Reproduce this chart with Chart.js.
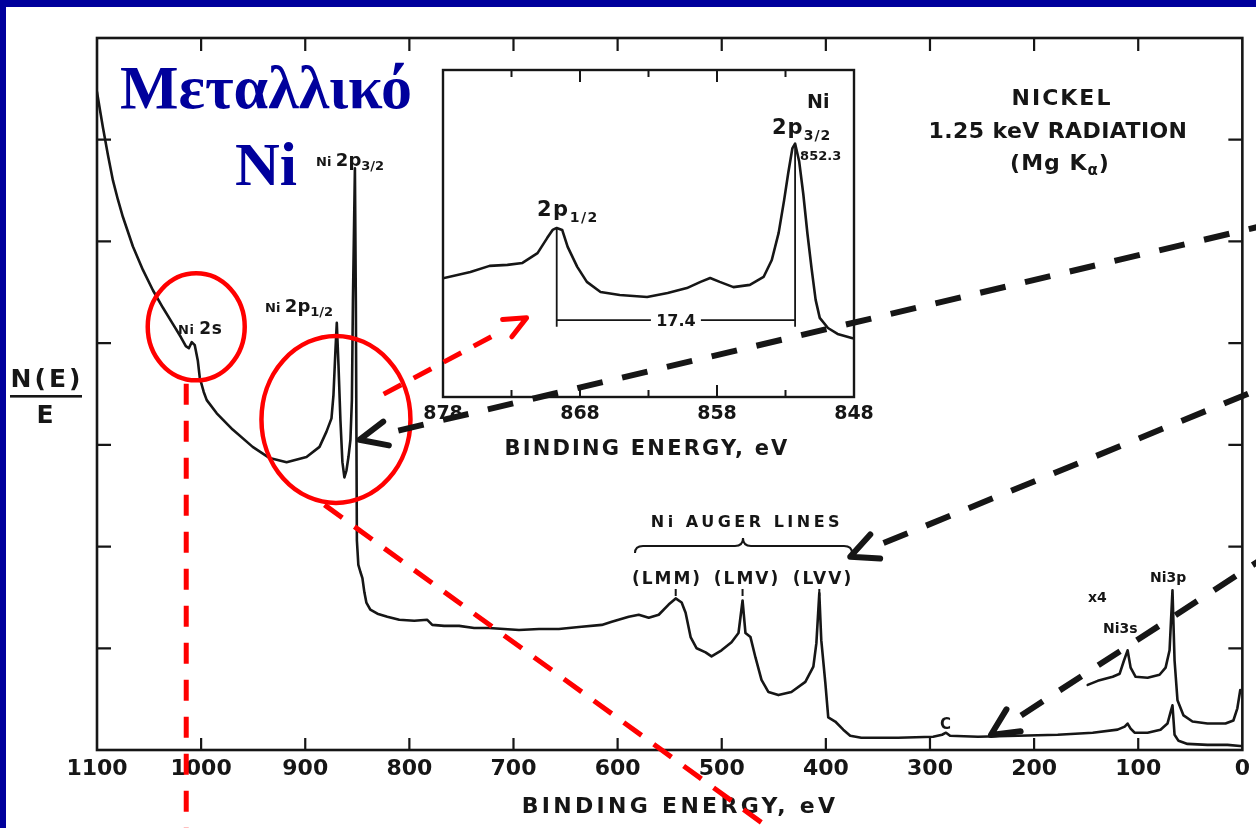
<!DOCTYPE html>
<html lang="el">
<head>
<meta charset="utf-8">
<title>Μεταλλικό Ni — φάσμα XPS</title>
<script src="https://cdn.jsdelivr.net/npm/chart.js@4.4.1/dist/chart.umd.min.js"></script>
<style>
  html, body { margin: 0; padding: 0; background: #fff; }
  #stage { position: relative; width: 1256px; height: 828px; overflow: hidden; }
  #stage canvas { position: absolute; left: 0; top: 0; }
</style>
</head>
<body>
<div id="stage">
  <canvas id="survey" width="1256" height="828"></canvas>
  <canvas id="detail" width="1256" height="828"></canvas>
</div>
<script>
// Wide scan: binding energy (eV) and N(E)/E in axis units
const surveyEnergy = [
  1100, 1097.1, 1094.3, 1089.5, 1084.7, 1079.9, 1075.1, 1065.5, 1055.9, 1046.3,
  1036.8, 1027.2, 1019.5, 1014.7, 1011.8, 1009.0, 1006.1, 1003.2, 1001.3, 997.5,
  994.6, 985.0, 969.7, 950.5, 934.2, 917.9, 898.8, 886.3, 879.6, 874.8,
  872.9, 871.0, 869.7, 868.1, 866.2, 864.3, 862.4, 860.4, 858.5, 856.6,
  855.2, 854.2, 852.3, 851.4, 850.4, 849.0, 847.0, 845.1, 843.2, 841.3,
  837.5, 830.7, 821.2, 809.7, 795.3, 782.8, 778.0, 766.6, 752.2, 737.8,
  723.4, 709.1, 694.7, 675.5, 656.4, 637.2, 615.2, 605.6, 589.3, 579.7,
  570.1, 560.5, 551.0, 544.2, 538.5, 534.7, 529.9, 524.1, 515.5, 509.8,
  500.2, 490.6, 483.9, 480.0, 477.2, 472.4, 467.6, 461.8, 455.1, 445.6,
  433.1, 419.7, 412.0, 409.1, 406.3, 404.4, 400.5, 397.7, 391.0, 383.3,
  376.6, 366.0, 349.7, 330.6, 297.0, 288.4, 284.6, 280.7, 253.9, 215.6,
  177.3, 143.7, 119.8, 113.0, 110.2, 107.3, 103.5, 91.0, 78.6, 71.9,
  69.0, 67.1, 65.1, 61.3, 52.7, 33.5, 14.3, 2.0, 0
];
const surveyCounts = [
  6.47, 6.29, 6.12, 5.85, 5.60, 5.41, 5.24, 4.95, 4.72, 4.52,
  4.35, 4.19, 4.06, 3.97, 3.95, 4.01, 3.98, 3.83, 3.66, 3.52,
  3.44, 3.31, 3.15, 2.98, 2.87, 2.83, 2.88, 2.98, 3.13, 3.26,
  3.49, 3.93, 4.20, 3.79, 3.24, 2.83, 2.68, 2.75, 2.88, 3.05,
  3.44, 4.42, 5.72, 4.42, 2.06, 1.82, 1.75, 1.69, 1.55, 1.45,
  1.38, 1.34, 1.31, 1.28, 1.27, 1.28, 1.23, 1.22, 1.22, 1.20,
  1.20, 1.19, 1.18, 1.19, 1.19, 1.21, 1.23, 1.26, 1.31, 1.33,
  1.30, 1.33, 1.43, 1.49, 1.45, 1.35, 1.11, 1.00, 0.96, 0.92,
  0.98, 1.06, 1.15, 1.47, 1.15, 1.11, 0.91, 0.69, 0.57, 0.54,
  0.57, 0.67, 0.82, 1.05, 1.54, 1.08, 0.66, 0.32, 0.28, 0.20,
  0.14, 0.12, 0.12, 0.12, 0.13, 0.15, 0.17, 0.14, 0.13, 0.14,
  0.15, 0.17, 0.20, 0.23, 0.26, 0.21, 0.17, 0.17, 0.20, 0.26,
  0.37, 0.44, 0.15, 0.09, 0.06, 0.05, 0.05, 0.04, 0.04
];
// Ni 3s / 3p region recorded at x4 gain
const gainEnergy = [148.5, 138.9, 124.5, 117.8, 114.0, 110.2, 107.3, 102.5, 91.0, 79.5, 73.7, 69.9, 67.1, 65.1, 62.3, 56.5, 47.9, 33.5, 16.2, 8.6, 4.8, 2.0];
const gainCounts = [0.64, 0.68, 0.72, 0.75, 0.87, 0.98, 0.81, 0.72, 0.71, 0.74, 0.81, 0.98, 1.57, 0.88, 0.49, 0.34, 0.28, 0.26, 0.26, 0.29, 0.41, 0.59];
// Ni 2p detail window (relative intensity)
const detailEnergy = [
  878.0, 876.0, 874.6, 873.3, 872.2, 871.1, 870.4, 870.0, 869.7, 869.3,
  868.9, 868.2, 867.5, 866.5, 865.1, 863.1, 861.6, 860.2, 859.2, 858.5,
  857.8, 856.8, 855.6, 854.6, 854.0, 853.5, 853.1, 852.8, 852.5, 852.3,
  852.0, 851.7, 851.4, 851.1, 850.8, 850.5, 849.9, 849.2, 848.1
];
const detailCounts = [
  36.3, 38.2, 40.1, 40.4, 41.0, 44.0, 48.6, 51.1, 51.7, 51.1,
  45.9, 39.8, 35.2, 32.1, 31.2, 30.6, 31.8, 33.3, 35.2, 36.4,
  35.2, 33.6, 34.3, 36.7, 41.9, 50.2, 60.2, 68.5, 76.0, 77.5,
  72.0, 62.0, 50.0, 39.4, 29.7, 24.2, 21.1, 19.3, 18.0
];
// Axis tick labels
const surveyTicks = [1100, 1000, 900, 800, 700, 600, 500, 400, 300, 200, 100, 0];
const detailTicks = [878, 868, 858, 848];
// Peak position and spin-orbit splitting quoted on the detail plot
const ni2p32 = 852.3;
const ni2pSplit = 17.4;
const ni2p12 = +(ni2p32 + ni2pSplit).toFixed(1);

const INK = '#161616', NAVY = '#00009c', RED = '#ff0000';
const SANS = '"DejaVu Sans", "Liberation Sans", sans-serif';
const SERIF = '"Liberation Serif", "DejaVu Serif", serif';

const pairs = (xs, ys) => xs.map((x, i) => ({ x, y: ys[i] }));
const trace = data => ({
  data, borderColor: INK, borderWidth: 2.6, pointRadius: 0, tension: 0,
  fill: false, borderJoinStyle: 'round', borderCapStyle: 'round'
});
const T = (text, size, dy) => ({ text, size, dy: dy || 0 });

// Writes a row of text pieces of different sizes (for sub-scripts)
function drawRuns(ctx, parts, x, y, align, spacing, color) {
  ctx.save();
  ctx.fillStyle = color || INK;
  ctx.textAlign = 'left';
  ctx.textBaseline = 'alphabetic';
  if ('letterSpacing' in ctx) ctx.letterSpacing = (spacing || 0) + 'px';
  const widths = parts.map(p => { ctx.font = `bold ${p.size}px ${SANS}`; return ctx.measureText(p.text).width; });
  const total = widths.reduce((a, b) => a + b, 0);
  let cx = align === 'center' ? x - total / 2 : x;
  parts.forEach((p, i) => {
    ctx.font = `bold ${p.size}px ${SANS}`;
    ctx.fillText(p.text, cx, y + p.dy);
    cx += widths[i];
  });
  ctx.restore();
}

function ring(ctx, cx, cy, rx, ry) {
  ctx.save();
  ctx.strokeStyle = RED; ctx.lineWidth = 4.5;
  ctx.beginPath(); ctx.ellipse(cx, cy, rx, ry, 0, 0, Math.PI * 2); ctx.stroke();
  ctx.restore();
}

// Dashed leader; dashes start at (x0,y0)
function dashed(ctx, x0, y0, x1, y1, color, width, dash) {
  ctx.save();
  ctx.strokeStyle = color; ctx.lineWidth = width; ctx.setLineDash(dash); ctx.lineCap = 'butt';
  ctx.beginPath(); ctx.moveTo(x0, y0); ctx.lineTo(x1, y1); ctx.stroke();
  ctx.restore();
}

// Dashed arrow from (x0,y0) to the tip (x1,y1) with an open head
function arrow(ctx, x0, y0, x1, y1, color, width, dash, head, spread, gap) {
  const a = Math.atan2(y0 - y1, x0 - x1);
  const sx = x1 + gap * Math.cos(a), sy = y1 + gap * Math.sin(a);
  dashed(ctx, sx, sy, x0, y0, color, width, dash);
  ctx.save();
  ctx.strokeStyle = color; ctx.lineWidth = width; ctx.lineCap = 'round'; ctx.lineJoin = 'round';
  ctx.beginPath();
  ctx.moveTo(x1 + head * Math.cos(a + spread), y1 + head * Math.sin(a + spread));
  ctx.lineTo(x1, y1);
  ctx.lineTo(x1 + head * Math.cos(a - spread), y1 + head * Math.sin(a - spread));
  ctx.stroke();
  ctx.restore();
}

const surveyDecor = {
  id: 'surveyDecor',
  beforeDraw(chart) {
    const { ctx, width, height } = chart;
    ctx.save();
    ctx.fillStyle = '#fff'; ctx.fillRect(0, 0, width, height);
    ctx.fillStyle = NAVY; ctx.fillRect(0, 0, width, 7); ctx.fillRect(0, 0, 6, height);
    ctx.restore();
  },
  afterDraw(chart) {
    const { ctx, chartArea: a, scales: { x: X, y: Y } } = chart;
    ctx.save();
    ctx.strokeStyle = INK; ctx.lineWidth = 2.6;
    ctx.strokeRect(a.left, a.top, a.right - a.left, a.bottom - a.top);
    // inward tick marks on all four sides
    ctx.lineWidth = 2.2;
    ctx.beginPath();
    surveyTicks.forEach(v => {
      if (v === X.min || v === X.max) return;
      const p = X.getPixelForValue(v);
      ctx.moveTo(p, a.bottom); ctx.lineTo(p, a.bottom - 12);
      ctx.moveTo(p, a.top); ctx.lineTo(p, a.top + 13);
    });
    for (let v = Y.min + 1; v < Y.max; v++) {
      const p = Y.getPixelForValue(v);
      ctx.moveTo(a.left, p); ctx.lineTo(a.left + 14, p);
      ctx.moveTo(a.right, p); ctx.lineTo(a.right - 14, p);
    }
    ctx.stroke();

    // heading
    ctx.fillStyle = NAVY;
    ctx.font = `bold 62px ${SERIF}`;
    ctx.textAlign = 'center';
    ctx.fillText('Μεταλλικό', 266, 108);
    ctx.fillText('Ni', 266, 185);

    // axis titles
    drawRuns(ctx, [T('N(E)', 25)], 47, 387, 'center', 3);
    ctx.fillStyle = INK; ctx.fillRect(10, 395, 72, 2.6);
    drawRuns(ctx, [T('E', 25)], 45, 423, 'center');
    drawRuns(ctx, [T('BINDING ENERGY, eV', 22)], 680, 813, 'center', 3.3);

    // peak labels
    drawRuns(ctx, [T('Ni ', 13), T('2p', 18), T('3/2', 13, 4)], 316, 166);
    drawRuns(ctx, [T('Ni ', 13), T('2p', 18), T('1/2', 13, 4)], 265, 312);
    drawRuns(ctx, [T('Ni ', 13), T('2s', 17)], 178, 334, 'left', 0.5);

    // source
    drawRuns(ctx, [T('NICKEL', 22)], 1062, 105, 'center', 2);
    drawRuns(ctx, [T('1.25 keV RADIATION', 22)], 1058, 138, 'center', 0.4);
    drawRuns(ctx, [T('(Mg K', 22), T('α', 15, 5), T(')', 22)], 1060, 170, 'center', 1);

    // Auger group
    drawRuns(ctx, [T('Ni AUGER LINES', 16)], 747, 527, 'center', 3.5);
    ctx.strokeStyle = INK; ctx.lineWidth = 2;
    ctx.beginPath();
    ctx.moveTo(635, 553);
    ctx.quadraticCurveTo(635, 546, 643, 546);
    ctx.lineTo(735, 546);
    ctx.quadraticCurveTo(743, 546, 743, 538);
    ctx.quadraticCurveTo(743, 546, 751, 546);
    ctx.lineTo(844, 546);
    ctx.quadraticCurveTo(852, 546, 852, 553);
    ctx.stroke();
    drawRuns(ctx, [T('(LMM)', 17)], 667, 584, 'center', 2);
    drawRuns(ctx, [T('(LMV)', 17)], 747, 584, 'center', 2);
    drawRuns(ctx, [T('(LVV)', 17)], 823, 584, 'center', 2);
    ctx.beginPath();
    [544.2, 480.0, 406.3].forEach(e => {
      const p = X.getPixelForValue(e);
      ctx.moveTo(p, 589); ctx.lineTo(p, 596);
    });
    ctx.stroke();

    // low binding energy labels
    drawRuns(ctx, [T('x4', 14)], 1088, 602);
    drawRuns(ctx, [T('Ni3s', 14)], 1103, 633);
    drawRuns(ctx, [T('Ni3p', 14)], 1150, 582);
    drawRuns(ctx, [T('C', 15)], X.getPixelForValue(285), 729, 'center');
    ctx.restore();
  }
};

const survey = new Chart(document.getElementById('survey'), {
  type: 'line',
  data: { datasets: [trace(pairs(surveyEnergy, surveyCounts)), trace(pairs(gainEnergy, gainCounts))] },
  options: {
    responsive: false, animation: false, devicePixelRatio: 1, events: [],
    layout: { padding: { left: 97, right: 11, top: 38, bottom: 0 } },
    plugins: { legend: { display: false }, tooltip: { enabled: false } },
    scales: {
      x: {
        type: 'linear', reverse: true, min: 0, max: 1100,
        afterBuildTicks: s => { s.ticks = surveyTicks.map(value => ({ value })); },
        afterFit: s => { s.height = 78; },
        grid: { display: false, drawTicks: false }, border: { display: false },
        ticks: {
          padding: 6, color: INK, autoSkip: false, maxRotation: 0,
          font: { family: SANS, size: 22, weight: 'bold' },
          callback: v => String(v)
        }
      },
      y: { type: 'linear', min: 0, max: 7, display: false }
    }
  },
  plugins: [surveyDecor]
});

const detailDecor = {
  id: 'detailDecor',
  afterDraw(chart) {
    const { ctx, chartArea: a, scales: { x: X, y: Y } } = chart;
    ctx.save();
    ctx.strokeStyle = INK; ctx.lineWidth = 2.4;
    ctx.strokeRect(a.left, a.top, a.right - a.left, a.bottom - a.top);
    ctx.lineWidth = 2;
    ctx.beginPath();
    for (let e = X.min + 5; e < X.max; e += 5) {
      const len = (e - X.min) % 10 === 0 ? 12 : 7;
      const p = X.getPixelForValue(e);
      ctx.moveTo(p, a.bottom); ctx.lineTo(p, a.bottom - len);
      ctx.moveTo(p, a.top); ctx.lineTo(p, a.top + len);
    }
    ctx.stroke();

    // 2p1/2 - 2p3/2 separation
    const x12 = X.getPixelForValue(ni2p12), x32 = X.getPixelForValue(ni2p32);
    const top12 = detailCounts[detailEnergy.indexOf(ni2p12)];
    const top32 = detailCounts[detailEnergy.indexOf(ni2p32)];
    const yDim = Y.getPixelForValue(23.5), yFoot = Y.getPixelForValue(21.5);
    const mid = (x12 + x32) / 2;
    ctx.lineWidth = 1.8;
    ctx.beginPath();
    ctx.moveTo(x12, Y.getPixelForValue(top12)); ctx.lineTo(x12, yFoot);
    ctx.moveTo(x32, Y.getPixelForValue(top32)); ctx.lineTo(x32, yFoot);
    ctx.moveTo(x12, yDim); ctx.lineTo(mid - 25, yDim);
    ctx.moveTo(mid + 25, yDim); ctx.lineTo(x32, yDim);
    ctx.stroke();
    drawRuns(ctx, [T(ni2pSplit.toFixed(1), 16)], mid, yDim + 6, 'center');

    drawRuns(ctx, [T('Ni', 19)], 807, 108);
    drawRuns(ctx, [T('2p', 21), T('3/2', 14, 6)], 772, 134, 'left', 1);
    drawRuns(ctx, [T(ni2p32.toFixed(1), 13)], x32 + 5, 160);
    drawRuns(ctx, [T('2p', 21), T('1/2', 14, 6)], 537, 216, 'left', 1.5);
    drawRuns(ctx, [T('BINDING ENERGY, eV', 21)], 647, 455, 'center', 2.2);

    // call-outs on the wide scan
    const S = survey.scales;
    const sx = e => S.x.getPixelForValue(e), sy = v => S.y.getPixelForValue(v);
    ring(ctx, sx(1004.7), sy(4.16), 48.5, 53.5);
    ring(ctx, sx(870.5), sy(3.25), 74.5, 83.5);
    dashed(ctx, sx(1014.3), sy(3.6), sx(1014.3), 840, RED, 5, [21, 16]);
    dashed(ctx, sx(881.5), sy(2.41), 780, 836, RED, 5, [22, 15]);
    arrow(ctx, sx(835.5), sy(3.44), X.getPixelForValue(871.9), Y.getPixelForValue(24.2), RED, 5, [20, 14], 24, 0.42, 40);
    arrow(ctx, 1262, 226, sx(848.0), sy(3.05), INK, 6, [26, 20], 30, 0.42, 40);
    arrow(ctx, 1262, 388, sx(376.6), sy(1.90), INK, 6, [26, 20], 30, 0.45, 36);
    arrow(ctx, 1262, 559, sx(241.5), sy(0.147), INK, 6, [26, 20], 30, 0.45, 36);
    ctx.restore();
  }
};

new Chart(document.getElementById('detail'), {
  type: 'line',
  data: { datasets: [trace(pairs(detailEnergy, detailCounts))] },
  options: {
    responsive: false, animation: false, devicePixelRatio: 1, events: [],
    layout: { padding: { left: 443, right: 402, top: 70, bottom: 405 } },
    plugins: { legend: { display: false }, tooltip: { enabled: false } },
    scales: {
      x: {
        type: 'linear', reverse: true, min: 848, max: 878,
        afterBuildTicks: s => { s.ticks = detailTicks.map(value => ({ value })); },
        afterFit: s => { s.height = 26; },
        grid: { display: false, drawTicks: false }, border: { display: false },
        ticks: {
          padding: 6, color: INK, autoSkip: false, maxRotation: 0,
          font: { family: SANS, size: 19, weight: 'bold' },
          callback: v => String(v)
        }
      },
      y: { type: 'linear', min: 0, max: 100, display: false }
    }
  },
  plugins: [detailDecor]
});
</script>
</body>
</html>
